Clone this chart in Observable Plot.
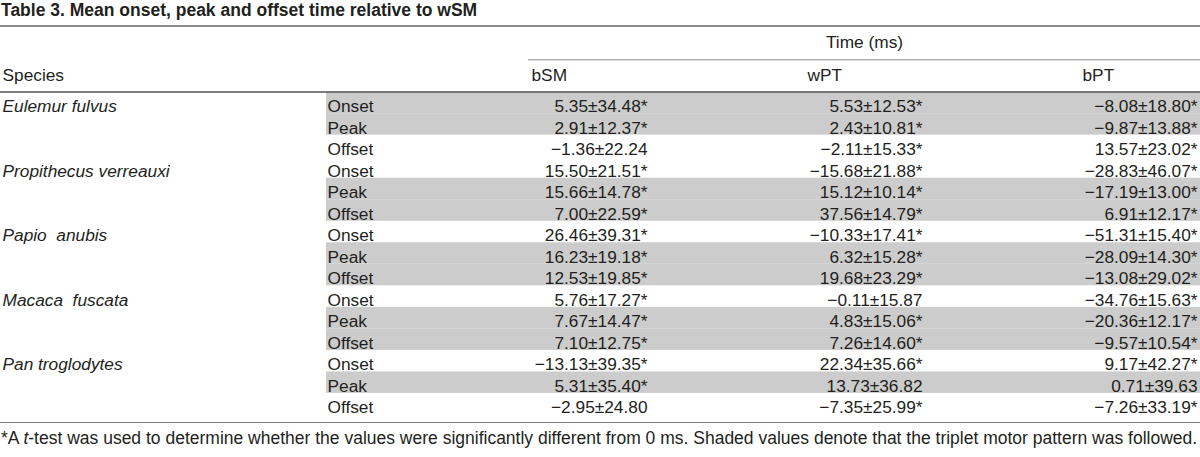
<!DOCTYPE html>
<html>
<head>
<meta charset="utf-8">
<script src="https://cdn.jsdelivr.net/npm/d3@7"></script>
<script src="https://cdn.jsdelivr.net/npm/@observablehq/plot@0.6"></script>
<style>
  html, body { margin: 0; padding: 0; background: #fff; }
  body { width: 1200px; font-family: "Liberation Sans", Arial, sans-serif; color: #231f20; }
  #title { height: 27px; box-sizing: border-box; padding: 1px 0 0 1px; font-weight: bold; font-size: 17.5px; line-height: 19px; border-bottom: 2px solid #8c8c8c; white-space: nowrap; }
  #chart svg { display: block; }
  #foot { border-top: 1.5px solid #7a7a7a; box-sizing: border-box; height: 35px; padding: 5px 0 0 1px; font-size: 17.5px; line-height: 20px; white-space: nowrap; }
</style>
</head>
<body>
<div id="title">Table 3. Mean onset, peak and offset time relative to wSM</div>
<div id="chart"></div>
<div id="foot">*A <i>t</i>-test was used to determine whether the values were significantly different from 0 ms. Shaded values denote that the triplet motor pattern was followed.</div>
<script>
// ---- data ----
const species = ["Eulemur fulvus", "Propithecus verreauxi", "Papio\u00a0 anubis", "Macaca\u00a0 fuscata", "Pan troglodytes"];
const events = ["Onset", "Peak", "Offset"];
const columns = ["bSM", "wPT", "bPT"];
const groupHeader = "Time (ms)";
const speciesHeader = "Species";

const bSMmean = [5.35, 2.91, -1.36, 15.50, 15.66, 7.00, 26.46, 16.23, 12.53, 5.76, 7.67, 7.10, -13.13, 5.31, -2.95];
const bSMsd   = [34.48, 12.37, 22.24, 21.51, 14.78, 22.59, 39.31, 19.18, 19.85, 17.27, 14.47, 12.75, 39.35, 35.40, 24.80];
const bSMsig  = [1, 1, 0, 1, 1, 1, 1, 1, 1, 1, 1, 1, 1, 1, 0];

const wPTmean = [5.53, 2.43, -2.11, -15.68, 15.12, 37.56, -10.33, 6.32, 19.68, -0.11, 4.83, 7.26, 22.34, 13.73, -7.35];
const wPTsd   = [12.53, 10.81, 15.33, 21.88, 10.14, 14.79, 17.41, 15.28, 23.29, 15.87, 15.06, 14.60, 35.66, 36.82, 25.99];
const wPTsig  = [1, 1, 1, 1, 1, 1, 1, 1, 1, 0, 1, 1, 1, 0, 1];

const bPTmean = [-8.08, -9.87, 13.57, -28.83, -17.19, 6.91, -51.31, -28.09, -13.08, -34.76, -20.36, -9.57, 9.17, 0.71, -7.26];
const bPTsd   = [18.80, 13.88, 23.02, 46.07, 13.00, 12.17, 15.40, 14.30, 29.02, 15.63, 12.17, 10.54, 42.27, 39.63, 33.19];
const bPTsig  = [1, 1, 1, 1, 1, 1, 1, 1, 1, 1, 1, 1, 1, 0, 1];

// rows where the triplet motor pattern was followed (shaded)
const shaded = [1, 1, 0, 0, 1, 1, 0, 1, 1, 0, 1, 1, 0, 1, 0];

// ---- layout (column anchors, in px) ----
const L = { speciesX: 2, shadeLeft: 326, eventX: 327, right: 1200,
            valueRight: { bSM: 647, wPT: 922, bPT: 1197 },
            headLeft: { bSM: 531, wPT: 807, bPT: 1082 },
            groupLeft: 528, groupCenter: 864 };

const fmt = (m, s, sig) => (m < 0 ? "\u2212" : "") + Math.abs(m).toFixed(2) + "\u00b1" + s.toFixed(2) + (sig ? "*" : "");
const series = { bSM: [bSMmean, bSMsd, bSMsig], wPT: [wPTmean, wPTsd, wPTsig], bPT: [bPTmean, bPTsd, bPTsig] };

const rows = d3.range(species.length * events.length).map(i => ({
  i,
  species: i % 3 === 0 ? species[i / 3] : "",
  event: events[i % 3],
  shaded: shaded[i]
}));
const cells = columns.flatMap(c => rows.map(r => ({
  i: r.i, col: c,
  text: fmt(series[c][0][r.i], series[c][1][r.i], series[c][2][r.i])
})));

const nRows = rows.length;
const chart = Plot.plot({
  width: 1200,
  height: 395,
  margin: 0,
  x: { domain: [0, 1200], range: [0, 1200], axis: null },
  y: { domain: [-3, nRows + 0.35], range: [0, 395], axis: null },
  style: { fontFamily: "'Liberation Sans', Arial, sans-serif", fontSize: "17.3px", color: "#231f20", background: "#fff" },
  marks: [
    Plot.rect(rows.filter(d => d.shaded), { x1: L.shadeLeft, x2: L.right, y1: d => d.i, y2: d => d.i + 1, fill: "#cccccc" }),
    Plot.ruleY([-1.5], { x1: L.groupLeft, x2: L.right, stroke: "#8c8c8c", strokeWidth: 1 }),
    Plot.ruleY([0], { stroke: "#555", strokeWidth: 1.5 }),
    Plot.text([groupHeader], { x: L.groupCenter, y: -2, text: d => d, textAnchor: "middle", lineAnchor: "bottom", dy: -1, fill: "#231f20" }),
    Plot.text([speciesHeader], { x: L.speciesX, y: 0, text: d => d, textAnchor: "start", lineAnchor: "bottom", dy: -11, fill: "#231f20" }),
    Plot.text(columns, { x: c => L.headLeft[c], y: 0, text: c => c, textAnchor: "start", lineAnchor: "bottom", dy: -11, fill: "#231f20" }),
    Plot.text(rows, { x: L.speciesX, y: d => d.i + 1, text: "species", textAnchor: "start", lineAnchor: "bottom", dy: -1.5, fontStyle: "italic", fill: "#231f20" }),
    Plot.text(rows, { x: L.eventX, y: d => d.i + 1, text: "event", textAnchor: "start", lineAnchor: "bottom", dy: -1.5, fill: "#231f20" }),
    Plot.text(cells, { x: d => L.valueRight[d.col], y: d => d.i + 1, text: "text", textAnchor: "end", lineAnchor: "bottom", dy: -1.5, fill: "#231f20" })
  ]
});
document.getElementById("chart").appendChild(chart);
</script>
</body>
</html>
